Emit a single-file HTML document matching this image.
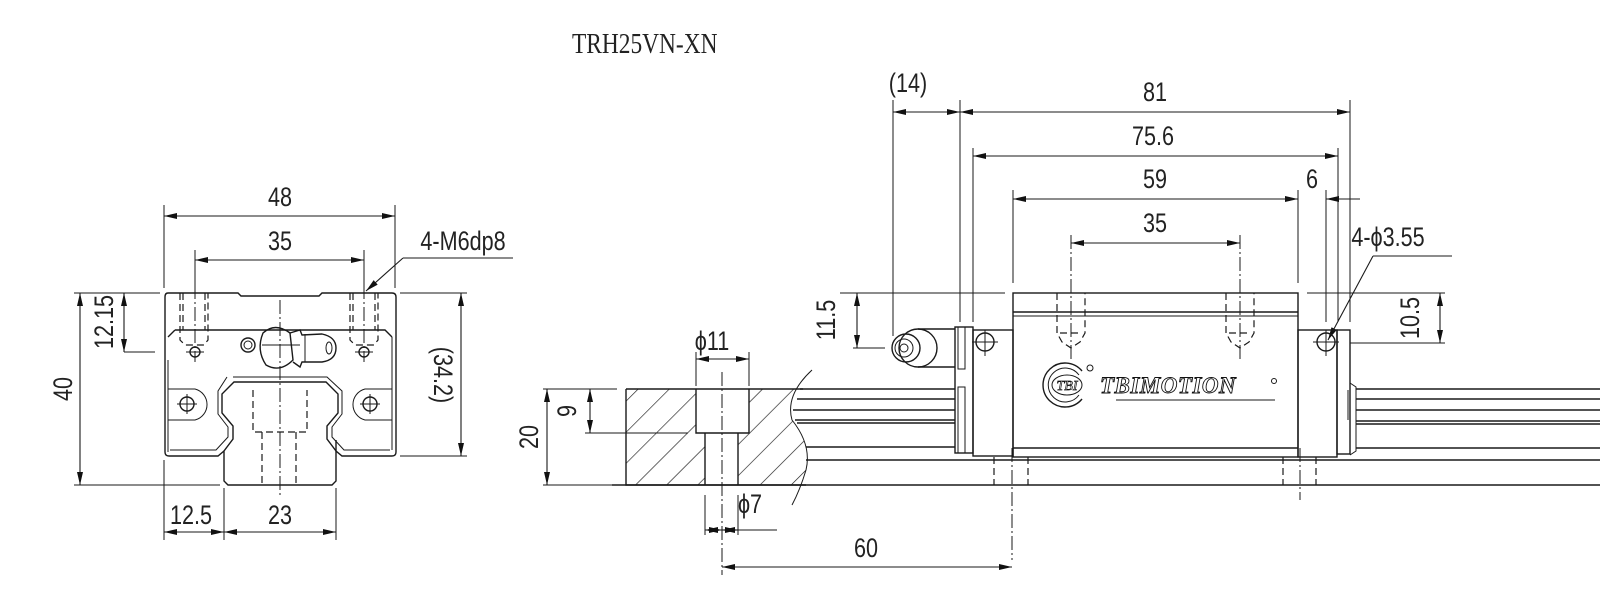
<!DOCTYPE html>
<html><head><meta charset="utf-8"><style>
html,body{margin:0;padding:0;background:#fff;}
svg{display:block}
.l{stroke:#1a1a1a;stroke-width:1.4;fill:none}
.t{stroke:#1a1a1a;stroke-width:1;fill:none}
.dsh{stroke:#1a1a1a;stroke-width:1.2;fill:none;stroke-dasharray:7 4}
.cl{stroke:#1a1a1a;stroke-width:1;fill:none;stroke-dasharray:14 3 2 3}
.dm{stroke:#1a1a1a;stroke-width:1.1;fill:none;marker-start:url(#ar);marker-end:url(#ar)}
.de{stroke:#1a1a1a;stroke-width:1.1;fill:none;marker-end:url(#ar)}
text.d{font-family:"Liberation Sans",sans-serif;font-size:27px;fill:#222;text-anchor:middle}
</style></head><body>
<svg width="1600" height="605" viewBox="0 0 1600 605" xmlns="http://www.w3.org/2000/svg">
<defs>
<marker id="ar" markerUnits="userSpaceOnUse" markerWidth="14" markerHeight="8" refX="13" refY="3" orient="auto-start-reverse"><path d="M0,0 L13,3 L0,6 z" fill="#111"/></marker>
<pattern id="h" width="22" height="22" patternUnits="userSpaceOnUse" patternTransform="rotate(45)"><line x1="0" y1="0" x2="0" y2="22" stroke="#1a1a1a" stroke-width="1.3"/></pattern>
</defs>
<rect width="1600" height="605" fill="#fff"/>
<text transform="translate(572,53) scale(.9,1.1)" style="font-family:'Liberation Serif',serif;font-size:26px;fill:#222">TRH25VN-XN</text>

<!-- ============ LEFT VIEW ============ -->
<line class="t" x1="164" y1="205" x2="164" y2="288"/><line class="t" x1="395" y1="205" x2="395" y2="288"/>
<line class="dm" x1="164" y1="216" x2="395" y2="216"/>
<text class="d" transform="translate(280,206) scale(.8,1)">48</text>
<line class="t" x1="195" y1="250" x2="195" y2="288"/><line class="t" x1="364" y1="250" x2="364" y2="288"/>
<line class="dm" x1="195" y1="260" x2="364" y2="260"/>
<text class="d" transform="translate(280,250) scale(.8,1)">35</text>
<text class="d" transform="translate(463,250) scale(.8,1)">4-M6dp8</text>
<line class="t" x1="403" y1="258" x2="513" y2="258"/>
<line class="de" x1="403" y1="258" x2="366" y2="291"/>
<line class="t" x1="74" y1="293" x2="160" y2="293"/><line class="t" x1="74" y1="485" x2="220" y2="485"/>
<line class="dm" x1="80" y1="293" x2="80" y2="485"/>
<text class="d" transform="translate(72,389) rotate(-90) scale(.8,1)">40</text>
<line class="t" x1="124" y1="352" x2="155" y2="352"/>
<line class="dm" x1="124" y1="293" x2="124" y2="352"/>
<text class="d" transform="translate(113,322) rotate(-90) scale(.8,1)">12.15</text>
<line class="t" x1="400" y1="293" x2="467" y2="293"/><line class="t" x1="400" y1="456" x2="467" y2="456"/>
<line class="dm" x1="461" y1="293" x2="461" y2="456"/>
<text class="d" transform="translate(434,375) rotate(90) scale(.8,1)">(34.2)</text>
<line class="t" x1="164" y1="460" x2="164" y2="540"/><line class="t" x1="224" y1="488" x2="224" y2="540"/><line class="t" x1="336" y1="488" x2="336" y2="540"/>
<line class="dm" x1="164" y1="532" x2="224" y2="532"/><line class="dm" x1="224" y1="532" x2="336" y2="532"/>
<text class="d" transform="translate(191,524) scale(.8,1)">12.5</text>
<text class="d" transform="translate(280,524) scale(.8,1)">23</text>
<path class="l" d="M168,293 L238,293 L241,296 L319,296 L322,293 L392,293 Q396,293 396,297 L396,452 Q396,456 392,456 L342,456 L336,451 L336,440"/>
<path class="l" d="M168,293 Q165,293 165,297 L165,452 Q165,456 169,456 L218,456 L224,451"/>
<line class="t" x1="168" y1="360" x2="168" y2="452"/>
<path class="l" d="M175,330 L385,330 L392,337 M175,330 L168,337"/>
<line class="t" x1="392" y1="337" x2="392" y2="450"/>
<path class="l" d="M234,382 L326,382 L338,394 L338,413 L327,426 L327,439 L336,451 L336,481 L332,485 L228,485 L224,481 L224,451 L233,439 L233,426 L222,413 L222,394 Z"/>
<path class="t" d="M233,377 L327,377 L342,391 L342,414 L332,427 L332,437 L344,450 L390,450 M227,377 L218,391 L218,414 L228,427 L228,437 L216,450 L170,450"/>
<path class="t" d="M168,389 L195,389 A16,16 0 0 1 195,420 L168,420"/>
<path class="t" d="M392,389 L365,389 A16,16 0 0 0 365,420 L392,420"/>
<circle class="l" cx="187" cy="404" r="7"/><line class="t" x1="177" y1="404" x2="197" y2="404"/><line class="t" x1="187" y1="394" x2="187" y2="414"/>
<circle class="l" cx="370" cy="404" r="7"/><line class="t" x1="360" y1="404" x2="380" y2="404"/><line class="t" x1="370" y1="394" x2="370" y2="414"/>
<circle class="l" cx="195" cy="352" r="5"/><line class="t" x1="186" y1="352" x2="204" y2="352"/>
<circle class="l" cx="364" cy="352" r="5"/><line class="t" x1="355" y1="352" x2="373" y2="352"/>
<path class="dsh" d="M180,293 L180,340 L185,345 L204,345 L208,340 L208,293 M183,293 L183,330 M205,293 L205,330"/>
<path class="dsh" d="M350,293 L350,340 L355,345 L374,345 L378,340 L378,293 M353,293 L353,330 M375,293 L375,330"/>
<line class="cl" x1="195" y1="285" x2="195" y2="362"/><line class="cl" x1="364" y1="285" x2="364" y2="362"/>
<circle class="l" cx="248" cy="345" r="7"/><circle class="t" cx="248" cy="345" r="4"/>
<path class="l" d="M263,333 Q275,322 290,333 L293,360 Q280,373 266,365 Q256,350 263,333 Z"/>
<path class="l" d="M290,333 L300,330 L302,335 L322,334 Q336,337 336,348 Q336,360 322,362 L302,362 L300,367 L293,362"/>
<ellipse class="t" cx="329" cy="348" rx="3" ry="6"/>
<line class="t" x1="305" y1="334" x2="305" y2="362"/>
<path class="dsh" d="M253,390 L253,432 L307,432 L307,390 M262,432 L262,485 M296,432 L296,485"/>
<line class="cl" x1="280" y1="300" x2="280" y2="495"/>
<line class="t" x1="262" y1="345" x2="300" y2="345"/>

<!-- ============ RIGHT VIEW ============ -->
<line class="t" x1="893" y1="100" x2="893" y2="336"/>
<line class="t" x1="960" y1="100" x2="960" y2="322"/>
<line class="t" x1="973" y1="148" x2="973" y2="322"/>
<line class="t" x1="1013" y1="190" x2="1013" y2="283"/>
<line class="t" x1="1298" y1="190" x2="1298" y2="283"/>
<line class="t" x1="1326" y1="190" x2="1326" y2="322"/>
<line class="t" x1="1338" y1="148" x2="1338" y2="322"/>
<line class="t" x1="1350" y1="100" x2="1350" y2="322"/>
<line class="dm" x1="893" y1="112" x2="960" y2="112"/>
<text class="d" transform="translate(908,92) scale(.8,1)">(14)</text>
<line class="dm" x1="960" y1="112" x2="1350" y2="112"/>
<text class="d" transform="translate(1155,101) scale(.8,1)">81</text>
<line class="dm" x1="973" y1="156" x2="1338" y2="156"/>
<text class="d" transform="translate(1153,145) scale(.8,1)">75.6</text>
<line class="dm" x1="1013" y1="199" x2="1298" y2="199"/>
<text class="d" transform="translate(1155,188) scale(.8,1)">59</text>
<line class="t" x1="1270" y1="199" x2="1298" y2="199"/>
<line class="de" x1="1360" y1="199" x2="1326" y2="199"/>
<text class="d" transform="translate(1312,188) scale(.8,1)">6</text>
<line class="dm" x1="1071" y1="243" x2="1240" y2="243"/>
<text class="d" transform="translate(1155,232) scale(.8,1)">35</text>
<line class="cl" x1="1071" y1="235" x2="1071" y2="360"/><line class="cl" x1="1240" y1="235" x2="1240" y2="360"/>
<text class="d" transform="translate(1388,246) scale(.8,1)">4-ϕ3.55</text>
<line class="t" x1="1373" y1="256" x2="1452" y2="256"/>
<line class="de" x1="1373" y1="256" x2="1328" y2="340"/>
<line class="t" x1="840" y1="293" x2="1005" y2="293"/><line class="t" x1="853" y1="348" x2="885" y2="348"/>
<line class="dm" x1="857" y1="293" x2="857" y2="348"/>
<text class="d" transform="translate(835,320) rotate(-90) scale(.8,1)">11.5</text>
<line class="t" x1="1307" y1="293" x2="1445" y2="293"/><line class="t" x1="1350" y1="343" x2="1445" y2="343"/>
<line class="dm" x1="1440" y1="293" x2="1440" y2="343"/>
<text class="d" transform="translate(1419,318) rotate(-90) scale(.8,1)">10.5</text>
<rect class="l" x="1013" y="293" width="285" height="164"/>
<line class="l" x1="1013" y1="312" x2="1298" y2="312"/><line class="t" x1="1013" y1="316" x2="1298" y2="316"/>
<line class="l" x1="1013" y1="448" x2="1298" y2="448"/>
<path class="dsh" d="M1057,293 L1057,333 L1062,342 L1071,348 L1080,342 L1085,333 L1085,293 M1060,333 L1082,333"/>
<path class="dsh" d="M1226,293 L1226,333 L1231,342 L1240,348 L1249,342 L1254,333 L1254,293 M1229,333 L1251,333"/>
<rect class="l" x="973" y="330" width="40" height="126"/>
<circle class="l" cx="985" cy="342" r="9"/><line class="t" x1="972" y1="342" x2="998" y2="342"/><line class="t" x1="985" y1="330" x2="985" y2="356"/>
<rect class="l" x="955" y="327" width="18" height="126"/>
<rect class="t" x="958" y="327" width="7" height="42"/>
<rect class="t" x="958" y="387" width="7" height="66"/>
<rect class="l" x="1298" y="330" width="39" height="127"/>
<circle class="l" cx="1326" cy="342" r="9"/><line class="t" x1="1313" y1="342" x2="1339" y2="342"/><line class="t" x1="1326" y1="330" x2="1326" y2="356"/>
<rect class="l" x="1337" y="330" width="13" height="124"/>
<path class="t" d="M1350,383 L1356,387 L1356,451 L1350,455 M1348,390 L1348,420"/>
<path class="l" d="M918,329 L955,329 M918,367 L955,367"/>
<circle class="l" cx="918" cy="348" r="19"/>
<circle class="l" cx="906" cy="348" r="14"/>
<circle class="t" cx="904" cy="348" r="9"/><circle class="t" cx="904" cy="348" r="4"/>
<g class="l">
<line x1="800" y1="389" x2="955" y2="389"/><line x1="797" y1="399" x2="955" y2="399"/>
<line x1="793" y1="410" x2="955" y2="410"/><line x1="795" y1="420" x2="955" y2="420"/>
<line x1="797" y1="423" x2="955" y2="423"/><line x1="806" y1="447" x2="955" y2="447"/>
<line x1="1356" y1="389" x2="1600" y2="389"/><line x1="1356" y1="399" x2="1600" y2="399"/>
<line x1="1356" y1="410" x2="1600" y2="410"/><line x1="1356" y1="421" x2="1600" y2="421"/>
<line x1="1356" y1="424" x2="1600" y2="424"/><line x1="1356" y1="448" x2="1600" y2="448"/>
<line x1="806" y1="460" x2="1600" y2="460"/><line x1="612" y1="485" x2="1600" y2="485"/>
</g>
<path class="dsh" d="M994,457 L994,485 M1028,457 L1028,485 M1283,457 L1283,485 M1316,457 L1316,485"/>
<line class="cl" x1="1012" y1="448" x2="1012" y2="560"/>
<line class="cl" x1="1300" y1="448" x2="1300" y2="500"/>
<path d="M626,389 L696,389 L696,433 L705,433 L705,485 L626,485 Z" fill="url(#h)" stroke="none"/>
<path d="M749,389 L803,389 Q785,400 792,420 Q812,445 806,470 L803,485 L738,485 L738,433 L749,433 Z" fill="url(#h)" stroke="none"/>
<path class="l" d="M626,389 L803,389 M626,389 L626,485 L806,485 M696,389 L696,433 L749,433 L749,389 M705,433 L705,485 M738,433 L738,485"/>
<path class="t" d="M812,370 Q785,395 792,420 Q812,445 806,470 Q800,490 792,505"/>
<line class="cl" x1="722" y1="372" x2="722" y2="575"/>
<line class="t" x1="696" y1="352" x2="696" y2="386"/><line class="t" x1="749" y1="352" x2="749" y2="386"/>
<line class="dm" x1="696" y1="359" x2="749" y2="359"/>
<text class="d" transform="translate(712,350) scale(.8,1)">ϕ11</text>
<line class="t" x1="543" y1="389" x2="617" y2="389"/><line class="t" x1="543" y1="485" x2="617" y2="485"/>
<line class="dm" x1="547" y1="389" x2="547" y2="485"/>
<text class="d" transform="translate(538,437) rotate(-90) scale(.8,1)">20</text>
<line class="t" x1="585" y1="433" x2="688" y2="433"/>
<line class="dm" x1="590" y1="389" x2="590" y2="433"/>
<text class="d" transform="translate(576,411) rotate(-90) scale(.8,1)">9</text>
<line class="t" x1="705" y1="495" x2="705" y2="535"/><line class="t" x1="738" y1="495" x2="738" y2="535"/>
<line class="dm" x1="705" y1="530" x2="722" y2="530"/><line class="dm" x1="738" y1="530" x2="722" y2="530"/>
<line class="t" x1="738" y1="530" x2="777" y2="530"/>
<text class="d" transform="translate(750,513) scale(.8,1)">ϕ7</text>
<line class="dm" x1="722" y1="567" x2="1012" y2="567"/>
<text class="d" transform="translate(866,557) scale(.8,1)">60</text>
<!-- logo -->
<path class="l" d="M1082,371 A22,22 0 1 0 1082,399" />
<path class="t" d="M1079,375 A17,17 0 1 0 1079,395" />
<ellipse class="t" cx="1067" cy="385" rx="15" ry="10"/>
<text x="1067" y="390" style="font-family:'Liberation Serif',serif;font-style:italic;font-size:14px;text-anchor:middle;fill:#fff;stroke:#111;stroke-width:.7">TBI</text>
<circle class="t" cx="1090" cy="368" r="3"/>
<text x="1100" y="393" style="font-family:'Liberation Serif',serif;font-style:italic;font-weight:bold;font-size:23px;fill:#fff;stroke:#111;stroke-width:.9;letter-spacing:.5px">TBIMOTION</text>
<circle class="t" cx="1274" cy="381" r="2.5"/>
<line class="t" x1="1116" y1="400" x2="1275" y2="400"/>
</svg>
</body></html>
